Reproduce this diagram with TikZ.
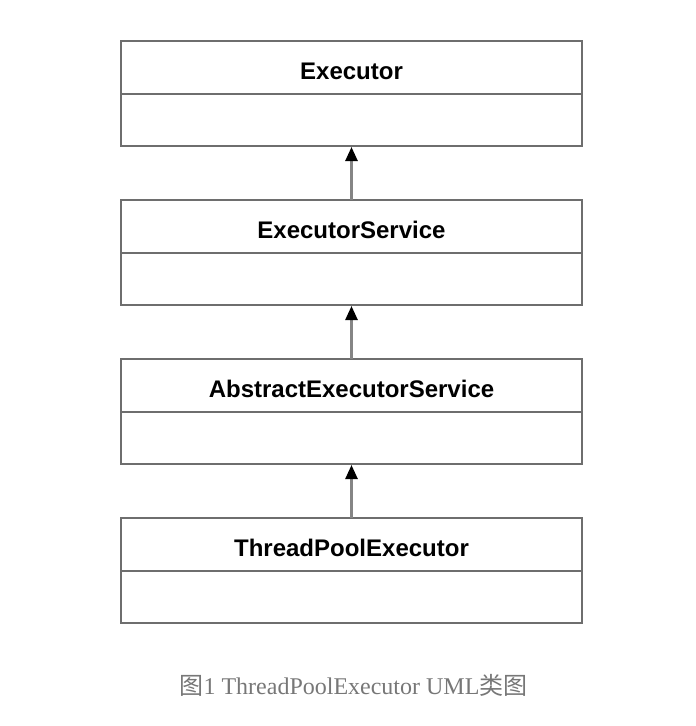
\documentclass[tikz,border=0pt]{standalone}
\usepackage{fontspec}
\setmainfont{Liberation Serif}
\setsansfont{Liberation Sans}
\newfontfamily\cjk{Noto Sans CJK SC}
\usetikzlibrary{%
    arrows.meta,
    positioning
}

\definecolor{boxgray}{HTML}{6E6E6E}
\definecolor{linegray}{HTML}{858585}
\definecolor{captiongray}{HTML}{777777}

\begin{document}
\begin{tikzpicture}[x=1pt, y=1pt,
        classname/.style={draw=boxgray, line width=2pt, outer sep=0pt,
                          minimum width=461pt, minimum height=53pt,
                          inner sep=0pt, text height=24pt, text depth=0pt,
                          font=\sffamily\bfseries\fontsize{24}{28}\selectfont},
        classbody/.style={draw=boxgray, line width=2pt, outer sep=0pt,
                          minimum width=461pt, minimum height=52pt,
                          inner sep=0pt},
        inherit/.style={draw=linegray, line width=2.5pt, shorten >=1pt,
                        -{Triangle[color=black, length=14pt, width=12pt]}}
    ]
    \useasboundingbox (0,0) rectangle (696,-726);

    % the four classes, one under the other
    \node[classname] (executor) at (351.5,-67.5) {Executor};
    \node[classbody, below=0pt of executor] (executorBody) {};

    \node[classname, below=54pt of executorBody] (service) {ExecutorService};
    \node[classbody, below=0pt of service] (serviceBody) {};

    \node[classname, below=54pt of serviceBody] (abstract) {AbstractExecutorService};
    \node[classbody, below=0pt of abstract] (abstractBody) {};

    \node[classname, below=54pt of abstractBody] (pool) {ThreadPoolExecutor};
    \node[classbody, below=0pt of pool] (poolBody) {};

    \foreach \Child/\Parent in {service/executorBody,
                                abstract/serviceBody,
                                pool/abstractBody}
        \draw[inherit] (\Child.north) -- (\Parent.south);

    \node[text=captiongray, font=\fontsize{24}{28}\selectfont]
        (caption) at (353.5,-685) {{\cjk 图}1 ThreadPoolExecutor UML{\cjk 类图}};
\end{tikzpicture}
\end{document}
